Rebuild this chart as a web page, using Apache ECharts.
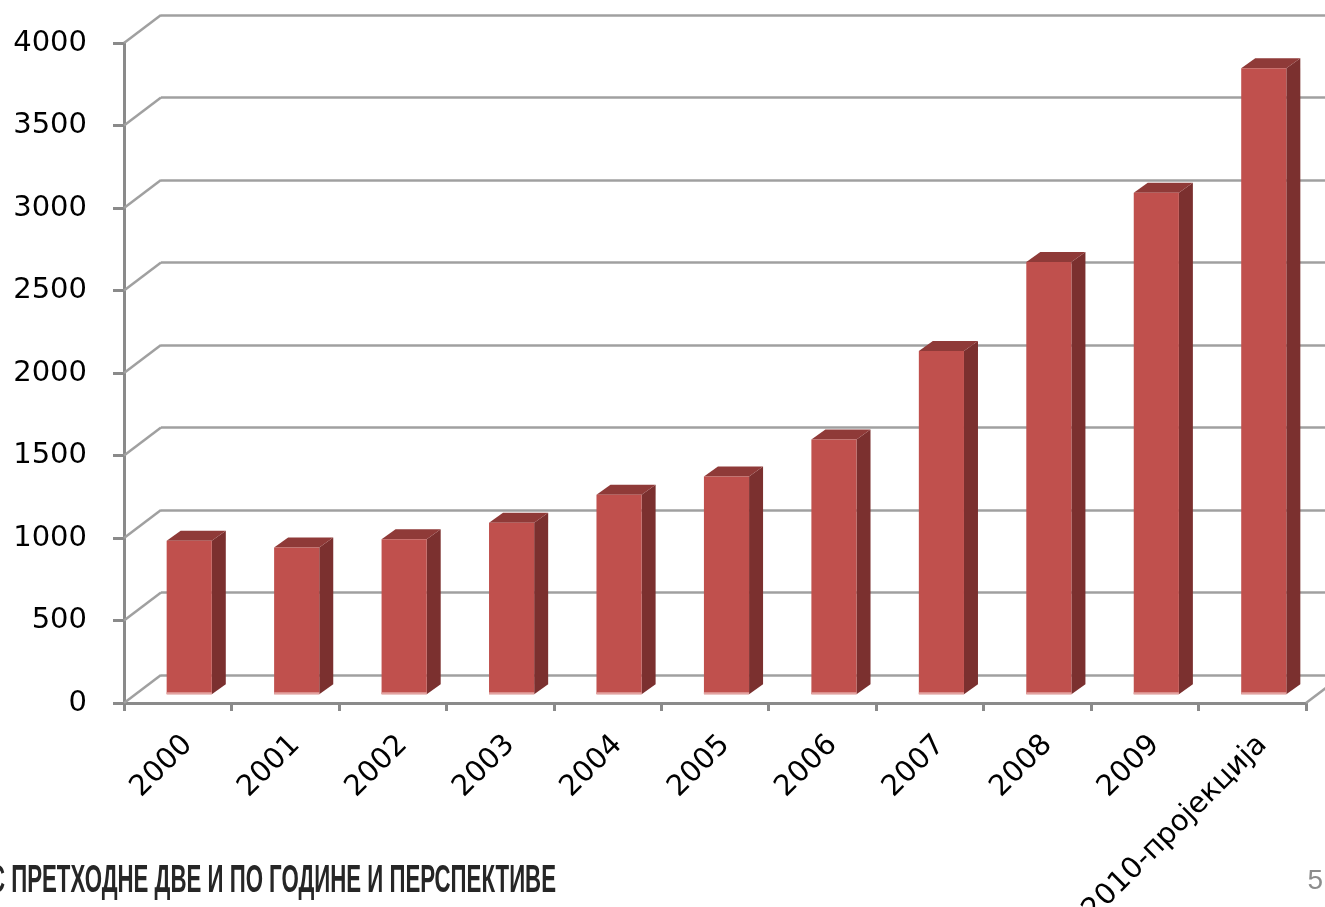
<!DOCTYPE html>
<html>
<head>
<meta charset="utf-8">
<script src="https://cdn.jsdelivr.net/npm/echarts@6/dist/echarts.min.js"></script>
<style>
  html, body { margin: 0; padding: 0; background: #fff; }
  #chart { width: 1325px; height: 907px; }
</style>
</head>
<body>
<div id="chart"></div>
<script>
// data
var years = ["2000", "2001", "2002", "2003", "2004", "2005", "2006", "2007", "2008", "2009", "2010-пројекција"];
var amounts = [930, 890, 940, 1040, 1210, 1320, 1545, 2080, 2620, 3040, 3795];
var valueTicks = [0, 500, 1000, 1500, 2000, 2500, 3000, 3500, 4000];
var footerText = "С ПРЕТХОДНЕ ДВЕ И ПО ГОДИНЕ И ПЕРСПЕКТИВЕ";
var pageNumber = "5";

// 3d look: wall depth and bar depth offsets
var WALL_DX = 37, WALL_DY = -28;
var BAR_SHIFT_X = 11.5, BAR_SHIFT_Y = -8.7;
var BAR_DX = 14, BAR_DY = -10;

var axisGrey = "#8a8a8a";
var labelFont = "DejaVu Sans";

// squeeze footer to the condensed look of the slide text
var footerFont = "bold 39px 'Liberation Sans'";
var ctx = document.createElement("canvas").getContext("2d");
ctx.font = footerFont;
var wFull = ctx.measureText(footerText).width;
var footLeft = -11;
var footScale = (556 - footLeft) / wFull;

var myChart = echarts.init(document.getElementById("chart"), null, { renderer: "canvas" });

var option = {
  backgroundColor: "#fff",
  animation: false,
  grid: [
    // front plane
    { left: 124, top: 43, width: 1182, height: 660, outerBoundsMode: "none", containLabel: false },
    // back wall
    { left: 124 + WALL_DX, top: 43 + WALL_DY, width: 1182, height: 660, outerBoundsMode: "none", containLabel: false }
  ],
  xAxis: [
    {
      type: "category", gridIndex: 0, data: years,
      axisLine: { show: true, lineStyle: { color: axisGrey, width: 3 } },
      axisTick: { show: true, length: 8, lineStyle: { color: axisGrey, width: 3 } },
      axisLabel: {
        interval: 0, rotate: 45, verticalAlign: "top", margin: 27,
        fontSize: 29, fontFamily: labelFont, color: "#000"
      },
      splitLine: { show: false }
    },
    {
      type: "category", gridIndex: 1, data: years,
      axisLine: { show: false }, axisTick: { show: false }, axisLabel: { show: false },
      splitLine: { show: false }
    }
  ],
  yAxis: [
    {
      type: "value", gridIndex: 0, min: 0, max: 4000, interval: 500,
      axisLine: { show: true, lineStyle: { color: axisGrey, width: 3 } },
      axisTick: { show: true, length: 11, lineStyle: { color: axisGrey, width: 3 } },
      axisLabel: {
        margin: 37, fontSize: 29, fontFamily: labelFont, color: "#000",
        formatter: function (v) { return String(v); }
      },
      splitLine: { show: false }
    },
    {
      type: "value", gridIndex: 1, min: 0, max: 4000, interval: 500,
      axisLine: { show: false }, axisTick: { show: false }, axisLabel: { show: false },
      splitLine: { show: true, lineStyle: { color: "#a0a0a0", width: 2.5 } }
    }
  ],
  series: [
    {
      // left wall and floor edge lines
      type: "custom",
      xAxisIndex: 0, yAxisIndex: 0,
      silent: true,
      data: valueTicks.map(function (v) { return [0, v]; }).concat([[years.length - 1, -1]]),
      renderItem: function (params, api) {
        var v = api.value(1);
        var half = api.size([1, 0])[0] / 2;
        var p;
        if (v < 0) {
          p = api.coord([api.value(0), 0]);
          p = [p[0] + half, p[1]];
        } else {
          p = api.coord([0, v]);
          p = [p[0] - half, p[1]];
        }
        return {
          type: "line",
          shape: { x1: p[0], y1: p[1], x2: p[0] + WALL_DX, y2: p[1] + WALL_DY },
          style: { stroke: "#a0a0a0", lineWidth: 2.5 }
        };
      },
      z: 1
    },
    {
      type: "custom",
      xAxisIndex: 0, yAxisIndex: 0,
      data: amounts.map(function (v, i) { return [i, v]; }),
      renderItem: function (params, api) {
        var top = api.coord([api.value(0), api.value(1)]);
        var base = api.coord([api.value(0), 0]);
        var bw = api.size([1, 0])[0] * 0.42;
        var x0 = top[0] - bw / 2 + BAR_SHIFT_X, x1 = x0 + bw;
        var yT = top[1] + BAR_SHIFT_Y, yB = base[1] + BAR_SHIFT_Y;
        return {
          type: "group",
          children: [
            {
              type: "polygon",
              shape: { points: [[x1, yT], [x1 + BAR_DX, yT + BAR_DY], [x1 + BAR_DX, yB + BAR_DY], [x1, yB]] },
              style: { fill: "#7b302f" }
            },
            {
              type: "polygon",
              shape: { points: [[x0, yT], [x0 + BAR_DX, yT + BAR_DY], [x1 + BAR_DX, yT + BAR_DY], [x1, yT]] },
              style: { fill: "#8f3a38" }
            },
            {
              type: "rect",
              shape: { x: x0, y: yT, width: bw, height: yB - yT },
              style: { fill: "#c0504d" }
            },
            {
              type: "line",
              shape: { x1: x0, y1: yB - 1, x2: x1, y2: yB - 1 },
              style: { stroke: "#e3a3a1", lineWidth: 2 }
            }
          ]
        };
      },
      z: 2
    }
  ],
  graphic: [
    {
      type: "text",
      x: footLeft, y: 862,
      scaleX: footScale,
      style: { text: footerText, font: footerFont, fill: "#262626" }
    },
    {
      type: "text",
      right: 2, top: 867,
      style: { text: pageNumber, font: "28px 'Liberation Sans'", fill: "#8c8c8c" }
    }
  ]
};

myChart.setOption(option);
</script>
</body>
</html>
